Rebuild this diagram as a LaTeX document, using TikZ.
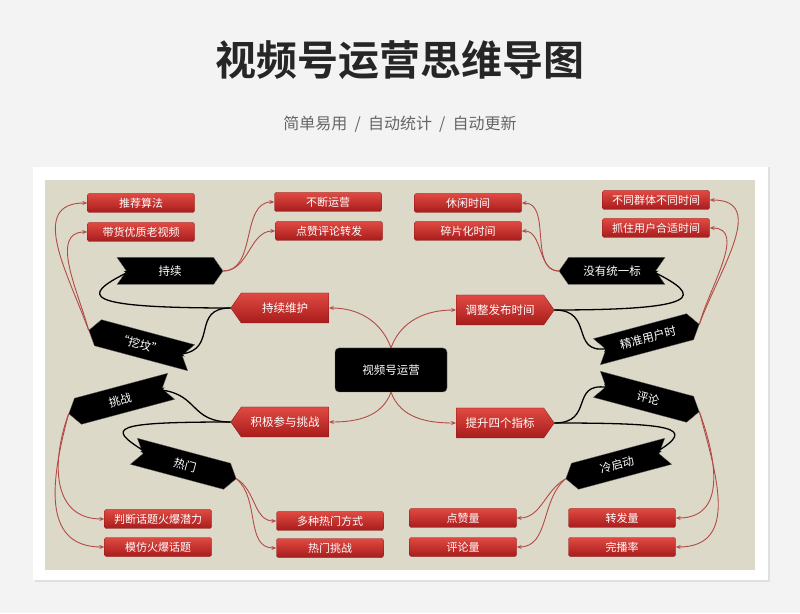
\documentclass[tikz,border=0pt]{standalone}
\usepackage{fontspec}
\setmainfont{Noto Sans CJK SC}
\newfontfamily\cjkb{Noto Sans CJK SC Bold}
\usetikzlibrary{shapes.symbols,arrows.meta,calc}
\definecolor{pagebg}{HTML}{F3F3F4}
\definecolor{beige}{HTML}{DDD9C9}
\definecolor{rline}{HTML}{B24B45}
\definecolor{rtop}{HTML}{E04A42}
\definecolor{rbot}{HTML}{A81C1C}
\tikzset{
 x=1pt,y=1pt,
 rbox/.style={rounded corners=2pt,top color=rtop,bottom color=rbot,draw=rbot!80!black,line width=0.3pt,minimum width=107,minimum height=19,inner sep=0,text=white,font=\fontsize{11}{11}\selectfont},
 rarrow/.style={signal,top color=rtop,bottom color=rbot,draw=rbot!80!black,line width=0.3pt,minimum width=98,minimum height=30,inner sep=0,text=white,font=\fontsize{11.5}{11.5}\selectfont,signal pointer angle=110},
 chev/.style={signal,fill=black,draw=black!60,line width=0.3pt,minimum width=106,minimum height=27,inner sep=0,text=white,font=\fontsize{11.5}{11.5}\selectfont,signal pointer angle=110},
 rl/.style={draw=rline,line width=0.9pt,-{Stealth[length=5pt,width=4pt]}},
 bl/.style={draw=black,line width=1.3pt,-{Stealth[length=6pt,width=6pt]}},
}
\begin{document}
\begin{tikzpicture}
\useasboundingbox (0,0) rectangle (800,613);
\fill[pagebg] (0,0) rectangle (800,613);
\fill[black!12] (35,31) rectangle (770,446);
\fill[white] (33,33) rectangle (768,446);
\fill[beige] (45,43) rectangle (755,433);
\node[font=\cjkb\fontsize{41}{41}\selectfont,text=black!85] (title) at (400,553) {视频号运营思维导图};
\node[font=\fontsize{16}{16}\selectfont,text=black!60] (sub) at (400,489) {简单易用 \ / \ 自动统计 \ / \ 自动更新};
% center
\node[rounded corners=4pt,fill=black,draw=black!60,minimum width=112,minimum height=44,text=white,font=\fontsize{11.5}{11.5}\selectfont] (c) at (391,243) {视频号运营};
% red arrows
\node[rarrow,signal to=west] (m1) at (285,305) {持续维护};
\node[rarrow,signal to=east] (m2) at (500,303) {调整发布时间};
\node[rarrow,signal to=west] (m3) at (285,191) {积极参与挑战};
\node[rarrow,signal to=east] (m4) at (500,190) {提升四个指标};
% chevrons
\node[chev,signal to=east,signal from=west] (k1) at (170,342) {持续};
\node[chev,signal to=west,signal from=east,rotate=-15] (k2) at (140,269) {“挖坟”};
\node[chev,signal to=west,signal from=east] (k3) at (612,342) {没有统一标};
\node[chev,signal to=east,signal from=west,rotate=15] (k4) at (648,275) {精准用户时};
\node[chev,signal to=west,signal from=east,rotate=15] (k5) at (120,213) {挑战};
\node[chev,signal to=east,signal from=west,rotate=-15] (k6) at (185,148) {热门};
\node[chev,signal to=east,signal from=west,rotate=-15] (k7) at (648,215) {评论};
\node[chev,signal to=west,signal from=east,rotate=15] (k8) at (617,148) {冷启动};
% red boxes
\node[rbox] (b1) at (141,410) {推荐算法};
\node[rbox] (b2) at (141,381) {带货优质老视频};
\node[rbox] (b3) at (328,411) {不断运营};
\node[rbox] (b4) at (329,382) {点赞评论转发};
\node[rbox] (b5) at (468,410) {休闲时间};
\node[rbox] (b6) at (468,382) {碎片化时间};
\node[rbox] (b7) at (656,413) {不同群体不同时间};
\node[rbox] (b8) at (656,385) {抓住用户合适时间};
\node[rbox] (b9) at (158,94) {判断话题火爆潜力};
\node[rbox] (b10) at (158,66) {模仿火爆话题};
\node[rbox] (b11) at (330,92) {多种热门方式};
\node[rbox] (b12) at (330,65) {热门挑战};
\node[rbox] (b13) at (463,95) {点赞量};
\node[rbox] (b14) at (463,66) {评论量};
\node[rbox] (b15) at (622,95) {转发量};
\node[rbox] (b16) at (622,66) {完播率};
% center to main
\draw[rl] (c.north) to[out=110,in=0] (m1.east);
\draw[rl] (c.north) to[out=70,in=180] (m2.west);
\draw[rl] (c.south) to[out=250,in=0] (m3.east);
\draw[rl] (c.south) to[out=290,in=180] (m4.west);
% black
\draw[bl] (m1.west) .. controls +(-150,0) and +(-50,-25) .. ($(k1.west)+(4,0)$);
\draw[bl] (m1.west) .. controls +(-40,0) and +(40,5) .. ($(k2.east)+(-4,1)$);
\draw[bl] (m2.east) .. controls +(150,0) and +(50,-25) .. ($(k3.east)+(-4,0)$);
\draw[bl] (m2.east) .. controls +(40,0) and +(-40,-5) .. ($(k4.west)+(4,1)$);
\draw[bl] (m3.west) .. controls +(-40,0) and +(40,-5) .. ($(k5.east)+(-4,-1)$);
\draw[bl] (m3.west) .. controls +(-120,0) and +(-40,25) .. ($(k6.west)+(4,1)$);
\draw[bl] (m4.east) .. controls +(40,0) and +(-40,5) .. ($(k7.west)+(4,-1)$);
\draw[bl] (m4.east) .. controls +(120,0) and +(40,25) .. ($(k8.east)+(-4,1)$);
% red leaves
\draw[rl] (k1.east) to[out=0,in=180] (b3.west);
\draw[rl] (k1.east) to[out=0,in=180] (b4.west);
\draw[rl] (k2.west) to[out=110,in=180,looseness=1.2] (b1.west);
\draw[rl] (k2.west) to[out=105,in=180] (b2.west);
\draw[rl] (k3.west) to[out=180,in=0] (b5.east);
\draw[rl] (k3.west) to[out=180,in=0] (b6.east);
\draw[rl] (k4.east) to[out=70,in=0,looseness=1.2] (b7.east);
\draw[rl] (k4.east) to[out=75,in=0] (b8.east);
\draw[rl] (k5.west) to[out=250,in=180,looseness=1.2] (b9.west);
\draw[rl] (k5.west) to[out=255,in=180,looseness=1.2] (b10.west);
\draw[rl] (k6.east) to[out=-30,in=180] (b11.west);
\draw[rl] (k6.east) to[out=-40,in=180] (b12.west);
\draw[rl] (k7.east) to[out=-70,in=0,looseness=1.2] (b15.east);
\draw[rl] (k7.east) to[out=-75,in=0,looseness=1.2] (b16.east);
\draw[rl] (k8.west) to[out=210,in=0] (b13.east);
\draw[rl] (k8.west) to[out=220,in=0] (b14.east);
\end{tikzpicture}
\end{document}
